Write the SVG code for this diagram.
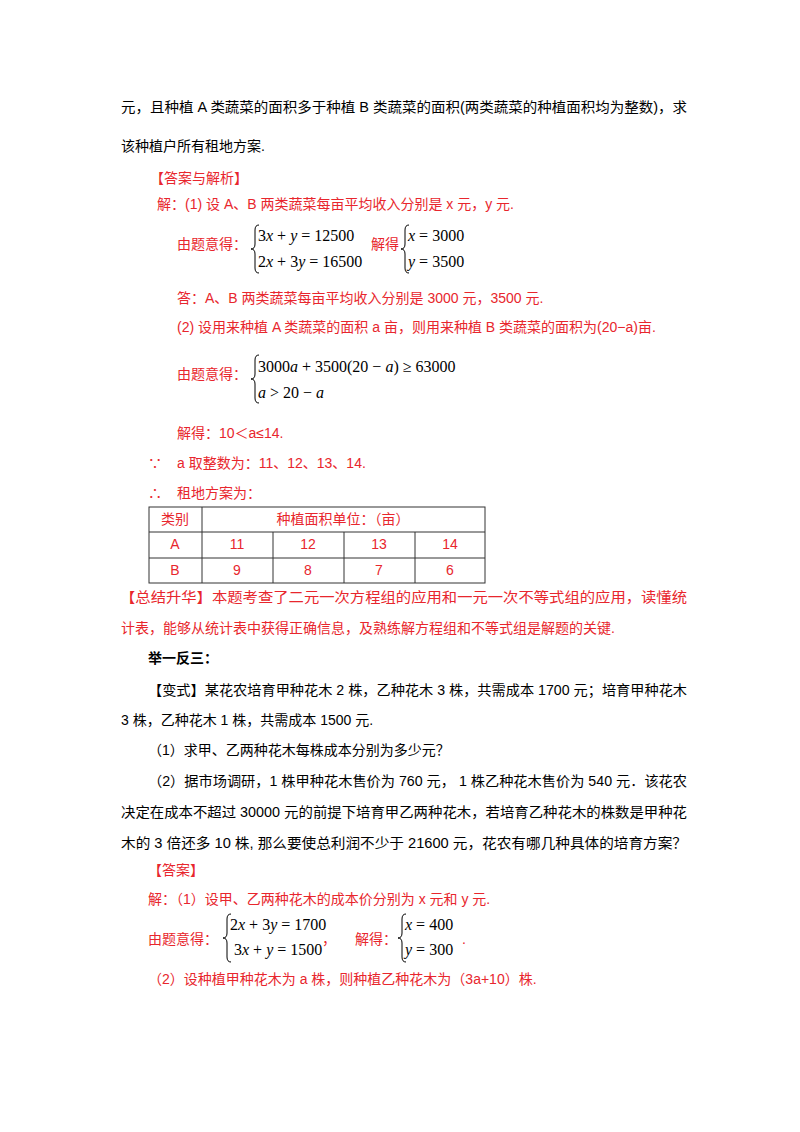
<svg xmlns="http://www.w3.org/2000/svg" width="800" height="1132" viewBox="0 0 800 1132">
<style>
text{font-family:"Liberation Sans","Noto Sans CJK SC",sans-serif;font-size:14px;fill:#000}
.r{fill:#e8262d}
.m{font-family:"Liberation Serif","Noto Sans CJK SC",serif;font-size:16px}
.b{font-weight:bold}
.br{fill:none;stroke:#000;stroke-width:1}
.tb{fill:none;stroke:#333;stroke-width:1}
</style>
<defs>
<path id="brace" class="br" d="M6,0 Q2,0 2,5 L2,19 Q2,24 -2,24 Q2,24 2,29 L2,43 Q2,48 6,48"/>
</defs>
<rect width="800" height="1132" fill="#fff"/>
<text x="121" y="112" textLength="566" lengthAdjust="spacingAndGlyphs">元，且种植 A 类蔬菜的面积多于种植 B 类蔬菜的面积(两类蔬菜的种植面积均为整数)，求</text>
<text x="121" y="151">该种植户所有租地方案.</text>
<text class="r" x="150" y="183">【答案与解析】</text>
<text class="r" x="157" y="209">解：(1) 设 A、B 两类蔬菜每亩平均收入分别是 x 元，y 元.</text>
<text class="r" x="177" y="249">由题意得：</text>
<use href="#brace" x="253" y="225"/>
<text class="m" x="258" y="241">3<tspan font-style="italic">x</tspan> + <tspan font-style="italic">y</tspan> = 12500</text>
<text class="m" x="258" y="267">2<tspan font-style="italic">x</tspan> + 3<tspan font-style="italic">y</tspan> = 16500</text>
<text class="r" x="371" y="249">解得</text>
<use href="#brace" x="403" y="225"/>
<text class="m" x="408" y="241"><tspan font-style="italic">x</tspan> = 3000</text>
<text class="m" x="408" y="267"><tspan font-style="italic">y</tspan> = 3500</text>
<text class="r" x="177" y="303">答：A、B 两类蔬菜每亩平均收入分别是 3000 元，3500 元.</text>
<text class="r" x="177" y="332">(2) 设用来种植 A 类蔬菜的面积 a 亩，则用来种植 B 类蔬菜的面积为(20−a)亩.</text>
<text class="r" x="177" y="379">由题意得：</text>
<use href="#brace" x="253" y="355"/>
<text class="m" x="258" y="372">3000<tspan font-style="italic">a</tspan> + 3500(20 − <tspan font-style="italic">a</tspan>) ≥ 63000</text>
<text class="m" x="258" y="398"><tspan font-style="italic">a</tspan> &gt; 20 − <tspan font-style="italic">a</tspan></text>
<text class="r" x="177" y="438">解得：10＜a≤14.</text>
<text class="r" x="148" y="468">∵</text>
<text class="r" x="177" y="468">a 取整数为：11、12、13、14.</text>
<text class="r" x="148" y="498">∴</text>
<text class="r" x="177" y="498">租地方案为：</text>
<g id="table">
<rect class="tb" x="149" y="507" width="336" height="76"/>
<line class="tb" x1="149" y1="532" x2="485" y2="532"/>
<line class="tb" x1="149" y1="558" x2="485" y2="558"/>
<line class="tb" x1="202" y1="507" x2="202" y2="583"/>
<line class="tb" x1="273" y1="532" x2="273" y2="583"/>
<line class="tb" x1="344" y1="532" x2="344" y2="583"/>
<line class="tb" x1="415" y1="532" x2="415" y2="583"/>
<g class="r" text-anchor="middle">
<text class="r" x="175" y="524">类别</text>
<text class="r" x="343" y="524">种植面积单位：（亩）</text>
<text class="r" x="175" y="549">A</text><text class="r" x="237" y="549">11</text><text class="r" x="308" y="549">12</text><text class="r" x="379" y="549">13</text><text class="r" x="450" y="549">14</text>
<text class="r" x="175" y="575">B</text><text class="r" x="237" y="575">9</text><text class="r" x="308" y="575">8</text><text class="r" x="379" y="575">7</text><text class="r" x="450" y="575">6</text>
</g>
</g>
<text class="r" x="120" y="602" textLength="567" lengthAdjust="spacingAndGlyphs">【总结升华】本题考查了二元一次方程组的应用和一元一次不等式组的应用，读懂统</text>
<text class="r" x="121" y="633">计表，能够从统计表中获得正确信息，及熟练解方程组和不等式组是解题的关键.</text>
<text class="b" x="148" y="663">举一反三：</text>
<text x="148" y="695" textLength="539" lengthAdjust="spacingAndGlyphs">【变式】某花农培育甲种花木 2 株，乙种花木 3 株，共需成本 1700 元；培育甲种花木</text>
<text x="121" y="725">3 株，乙种花木 1 株，共需成本 1500 元.</text>
<text x="148" y="755">（1）求甲、乙两种花木每株成本分别为多少元？</text>
<text x="148" y="786" textLength="539" lengthAdjust="spacingAndGlyphs">（2）据市场调研，1 株甲种花木售价为 760 元， 1 株乙种花木售价为 540 元．该花农</text>
<text x="121" y="817" textLength="566" lengthAdjust="spacingAndGlyphs">决定在成本不超过 30000 元的前提下培育甲乙两种花木，若培育乙种花木的株数是甲种花</text>
<text x="121" y="848" textLength="566" lengthAdjust="spacingAndGlyphs">木的 3 倍还多 10 株, 那么要使总利润不少于 21600 元，花农有哪几种具体的培育方案？</text>
<text class="r" x="148" y="875">【答案】</text>
<text class="r" x="148" y="904">解：（1）设甲、乙两种花木的成本价分别为 x 元和 y 元.</text>
<text class="r" x="148" y="944">由题意得：</text>
<use href="#brace" x="225" y="914"/>
<text class="m" x="230" y="930">2<tspan font-style="italic">x</tspan> + 3<tspan font-style="italic">y</tspan> = 1700</text>
<text class="m" x="234" y="955">3<tspan font-style="italic">x</tspan> + <tspan font-style="italic">y</tspan> = 1500</text>
<text class="r" x="322" y="944">，</text>
<text class="r" x="355" y="944">解得：</text>
<use href="#brace" x="400" y="914"/>
<text class="m" x="405" y="930"><tspan font-style="italic">x</tspan> = 400</text>
<text class="m" x="405" y="955"><tspan font-style="italic">y</tspan> = 300</text>
<text class="r" x="462" y="944">.</text>
<text class="r" x="148" y="984">（2）设种植甲种花木为 a 株，则种植乙种花木为（3a+10）株.</text>
</svg>
